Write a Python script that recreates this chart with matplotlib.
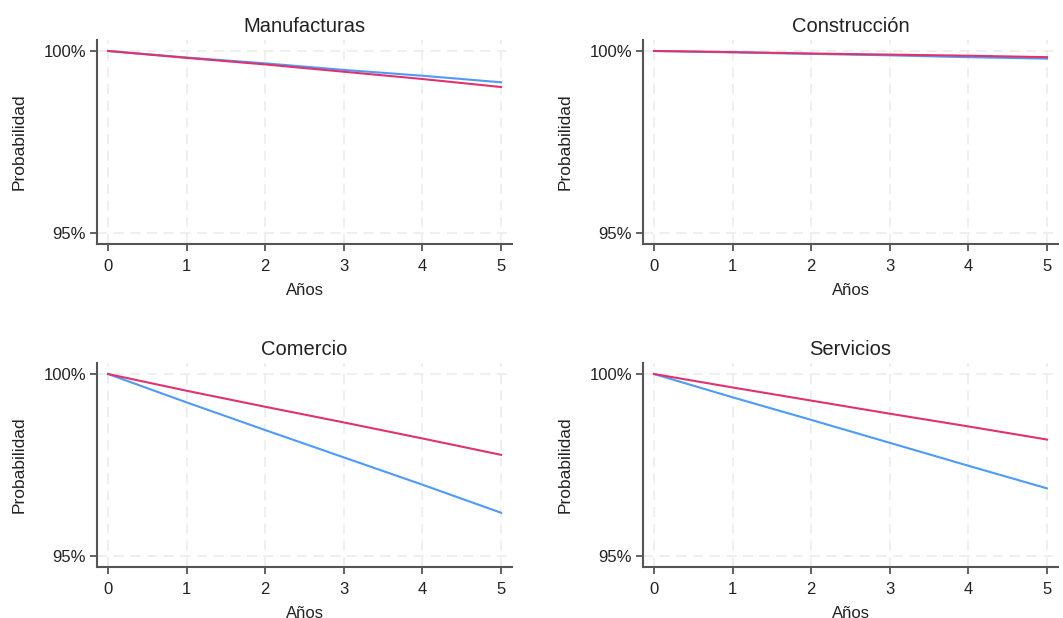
import numpy as np
import matplotlib
matplotlib.use("Agg")
from matplotlib import pyplot as plt
from matplotlib.ticker import FuncFormatter

plt.rcParams['font.family'] = ['Liberation Sans', 'DejaVu Sans']

years = [0, 1, 2, 3, 4, 5]
titles = ['Manufacturas', 'Construcción', 'Comercio', 'Servicios']

# probabilidad (%) por sector, dos series
blue_manuf = [100, 99.82, 99.66, 99.48, 99.32, 99.14]
red_manuf = [100, 99.81, 99.63, 99.43, 99.23, 99.01]
blue_constr = [100, 99.96, 99.92, 99.88, 99.83, 99.79]
red_constr = [100, 99.97, 99.93, 99.90, 99.87, 99.83]
blue_comer = [100, 99.22, 98.46, 97.71, 96.96, 96.19]
red_comer = [100, 99.54, 99.10, 98.67, 98.23, 97.78]
blue_serv = [100, 99.36, 98.74, 98.11, 97.48, 96.86]
red_serv = [100, 99.63, 99.27, 98.91, 98.56, 98.20]

blue_series = [blue_manuf, blue_constr, blue_comer, blue_serv]
red_series = [red_manuf, red_constr, red_comer, red_serv]

BLUE = '#4d9bf7'
RED = '#e0336e'
SPINE = '#555555'

fig = plt.figure(figsize=(10.63, 6.18), dpi=100)
positions = [[0.0913, 0.6052, 0.3904, 0.330],
             [0.6049, 0.6052, 0.3904, 0.330],
             [0.0913, 0.0825, 0.3904, 0.330],
             [0.6049, 0.0825, 0.3904, 0.330]]

for i in range(4):
    ax = fig.add_axes(positions[i])
    ax.plot(years, blue_series[i], color=BLUE, lw=1.5, zorder=3)
    ax.plot(years, red_series[i], color=RED, lw=1.5, zorder=4)
    ax.set_xlim(-0.14, 5.14)
    ax.set_ylim(94.7, 100.3)
    ax.set_xticks(years)
    ax.set_yticks([95, 100])
    ax.yaxis.set_major_formatter(FuncFormatter(lambda v, p: '%d%%' % v))
    ax.grid(True, color='#ececec', linestyle=(0, (6, 4)), lw=1.2, zorder=0)
    ax.spines['top'].set_visible(False)
    ax.spines['right'].set_visible(False)
    for s in ['left', 'bottom']:
        ax.spines[s].set_color(SPINE)
        ax.spines[s].set_linewidth(1.5)
    ax.tick_params(axis='both', colors=SPINE, width=1.3, length=5,
                   labelsize=12, labelcolor='#222222')
    ax.tick_params(axis='x', pad=6)
    ax.tick_params(axis='y', pad=3)
    ax.set_title(titles[i], fontsize=14.5, color='#222222', pad=6)
    ax.set_xlabel('Años', fontsize=12, color='#222222', labelpad=6)
    ax.set_ylabel('Probabilidad', fontsize=12.5, color='#222222', labelpad=12)

fig.savefig('out.png', dpi=100, facecolor='white')
